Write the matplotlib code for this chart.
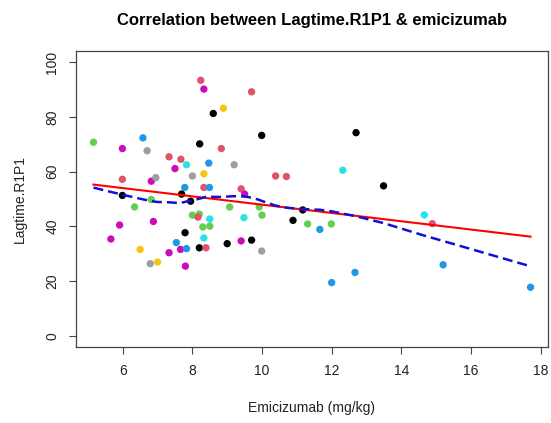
import numpy as np
from matplotlib import pyplot as plt

# R 4 default palette
r_black = "black"
r_crimson = "#DF536B"
r_green = "#61D04F"
r_blue = "#2297E6"
r_cyan = "#28E2E5"
r_magenta = "#CD0BBC"
r_gold = "#F5C710"
r_gray = "#9E9E9E"

dose = [5.16, 5.99, 6.58, 6.70, 8.24, 8.33, 8.60, 8.89, 8.21, 8.83,
        5.99, 6.82, 6.95, 7.33, 7.67, 7.83, 7.50, 8.47, 8.00, 8.33,
        7.78, 8.33, 8.49, 5.99, 7.69, 7.95, 6.34, 6.82, 9.07, 8.00,
        8.20, 8.16, 8.50, 8.30, 8.50, 5.91, 6.88, 5.66, 7.79, 8.33,
        7.54, 6.50, 7.33, 7.66, 7.83, 8.20, 8.39, 9.00, 6.79, 7.00,
        7.80, 9.70, 9.99, 9.20, 12.70, 12.32, 10.39, 10.70, 13.49, 9.40,
        9.50, 9.92, 9.48, 10.00, 11.17, 10.89, 11.31, 11.99, 11.66, 9.40,
        9.70, 9.99, 12.00, 12.67, 14.66, 14.89, 15.20, 17.71]

lagtime = [70.7, 68.4, 72.3, 67.6, 93.3, 90.1, 81.2, 83.1, 70.1, 68.4,
           57.2, 56.5, 57.8, 65.4, 64.5, 62.5, 61.1, 63.1, 58.4, 59.2,
           54.2, 54.2, 54.2, 51.3, 51.8, 49.2, 47.1, 49.8, 47.1, 44.1,
           44.5, 43.4, 42.7, 39.8, 40.1, 40.5, 41.8, 35.4, 37.7, 35.8,
           34.1, 31.6, 30.4, 31.6, 31.9, 32.2, 32.2, 33.7, 26.4, 27.0,
           25.5, 89.1, 73.2, 62.5, 74.2, 60.5, 58.4, 58.2, 54.8, 53.7,
           51.8, 47.1, 43.2, 44.1, 46.0, 42.2, 40.9, 40.9, 38.9, 34.7,
           35.0, 31.0, 19.5, 23.2, 44.2, 41.0, 26.0, 17.8]

point_colors = [r_green, r_magenta, r_blue, r_gray, r_crimson, r_magenta, r_black, r_gold, r_black, r_crimson,
                r_crimson, r_magenta, r_gray, r_crimson, r_crimson, r_cyan, r_magenta, r_blue, r_gray, r_gold,
                r_blue, r_crimson, r_blue, r_black, r_black, r_black, r_green, r_green, r_green, r_green,
                r_green, r_crimson, r_cyan, r_green, r_green, r_magenta, r_magenta, r_magenta, r_black, r_cyan,
                r_blue, r_gold, r_magenta, r_magenta, r_blue, r_black, r_crimson, r_black, r_gray, r_gold,
                r_magenta, r_crimson, r_black, r_gray, r_black, r_cyan, r_crimson, r_crimson, r_black, r_crimson,
                r_magenta, r_green, r_cyan, r_green, r_black, r_black, r_green, r_green, r_blue, r_magenta,
                r_black, r_gray, r_blue, r_blue, r_cyan, r_crimson, r_blue, r_blue]

x_ticks = [6, 8, 10, 12, 14, 16, 18]
y_ticks = [0, 20, 40, 60, 80, 100]


def lowess(x, y, f=2/3, iters=3):
    # plain version of R's lowess()
    order = np.argsort(x)
    x = np.asarray(x, float)[order]
    y = np.asarray(y, float)[order]
    n = len(x)
    r = int(np.ceil(f * n))
    fitted = np.zeros(n)
    robust = np.ones(n)
    for it in range(iters + 1):
        for i in range(n):
            d = np.abs(x - x[i])
            h = np.sort(d)[r - 1]
            w = np.clip(d / max(h, 1e-12), 0, 1)
            w = (1 - w ** 3) ** 3 * robust
            sw = w.sum()
            xm = (w * x).sum() / sw
            ym = (w * y).sum() / sw
            sxx = (w * (x - xm) ** 2).sum()
            if sxx > 1e-12:
                b = (w * (x - xm) * (y - ym)).sum() / sxx
            else:
                b = 0.0
            fitted[i] = ym + b * (x[i] - xm)
        res = y - fitted
        s = np.median(np.abs(res))
        u = np.clip(res / (6 * s), -1, 1)
        robust = (1 - u ** 2) ** 2
    return x, fitted


def main():

    plt.rcParams['font.family'] = ['Liberation Sans', 'DejaVu Sans']

    fig = plt.figure(figsize=(5.51, 4.23), dpi=100)
    ax = fig.add_axes([76 / 551, 76 / 423, 472 / 551, 296 / 423])

    ax.scatter(dose, lagtime, c=point_colors, s=28, linewidths=0, zorder=2)

    slope, intercept = np.polyfit(dose, lagtime, 1)
    xs = np.array([min(dose), max(dose)])
    ax.plot(xs, intercept + slope * xs, color="red", lw=1.5, zorder=3)

    lx, ly = lowess(dose, lagtime)
    ax.plot(lx, ly, color="#1010d8", lw=1.8, dashes=(4, 2), zorder=4)

    span = max(dose) - min(dose)
    ax.set_xlim(min(dose) - 0.04 * span, max(dose) + 0.04 * span)
    ax.set_ylim(-4, 104)
    ax.set_xticks(x_ticks)
    ax.set_yticks(y_ticks)
    ax.tick_params(direction="out", length=5, width=0.8, color="#444444",
                   labelsize=10, labelcolor="#222222", pad=7)
    for lab in ax.get_yticklabels():
        lab.set_rotation(90)
        lab.set_va("center")
    for sp in ax.spines.values():
        sp.set_color("#444444")
        sp.set_linewidth(0.9)

    ax.set_xlabel("Emicizumab (mg/kg)", fontsize=10, color="#222222")
    ax.xaxis.set_label_coords(0.5, (347 - 408) / 296)
    ax.xaxis.label.set_va("center")
    ax.set_ylabel("Lagtime.R1P1", fontsize=10, color="#222222")
    ax.yaxis.set_label_coords((20 - 76) / 472, 0.5)
    ax.yaxis.label.set_va("center")

    ax.set_title("Correlation between Lagtime.R1P1 & emicizumab",
                 fontsize=12, fontweight="bold", pad=19)

    fig.savefig("out.png", dpi=100)


if __name__ == "__main__":
    main()
